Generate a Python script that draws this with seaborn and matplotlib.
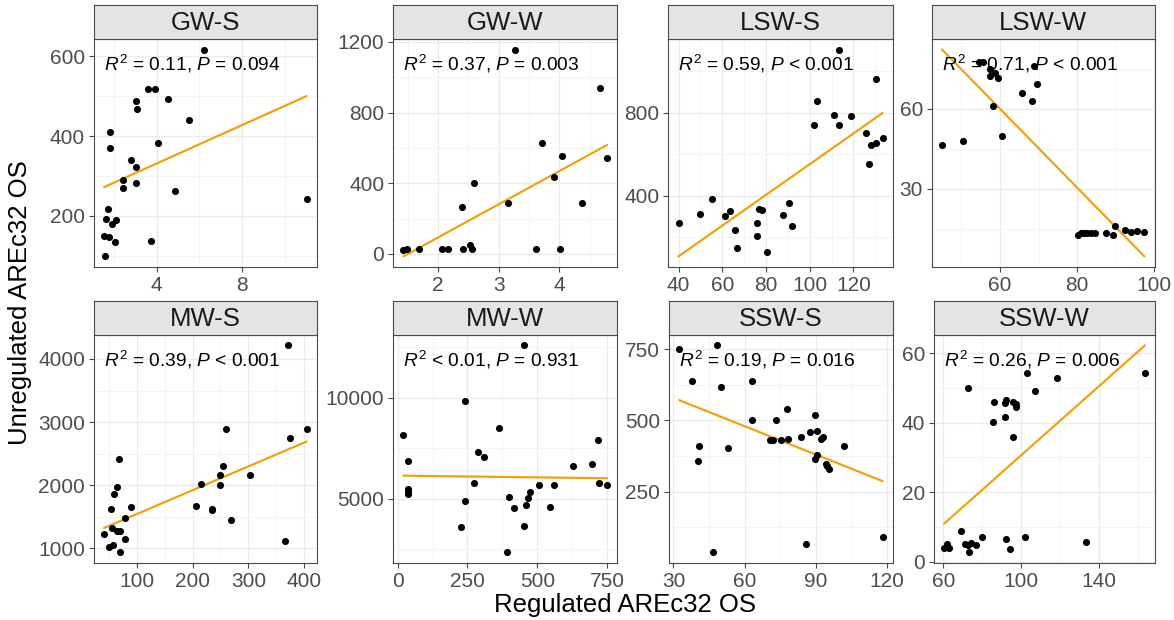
import matplotlib
matplotlib.use("Agg")
import matplotlib.pyplot as plt
from matplotlib.ticker import FixedLocator, AutoMinorLocator
import seaborn as sns

# ---- data: regulated (x) vs unregulated (y) AREc32 OS per site/season ----
gw_s_x = [6.19, 3.57, 3.91, 3.03, 4.53, 3.09, 5.53, 1.81, 1.81, 4.05, 2.81, 3.03, 2.44,
          2.41, 3.03, 4.85, 11.01, 1.71, 1.62, 2.10, 1.90, 1.54, 1.78, 2.07, 3.75, 1.58]
gw_s_y = [617, 519, 519, 488, 492, 467, 441, 409, 371, 382, 339, 322, 290,
          270, 282, 263, 243, 217, 193, 190, 179, 148, 147, 134, 136, 98]

gw_w_x = [3.27, 4.67, 3.72, 4.05, 4.79, 3.91, 2.59, 2.40, 3.16, 4.37,
          1.43, 1.48, 1.68, 2.06, 2.17, 2.42, 2.52, 2.56, 3.62, 4.01]
gw_w_y = [1156, 939, 630, 552, 541, 434, 400, 267, 288, 288,
          22, 25, 27, 29, 29, 25, 48, 27, 25, 25]

lsw_s_x = [113.3, 130.2, 103.4, 110.9, 118.7, 102.0, 113.3, 125.8, 133.3, 130.2, 128.0,
           126.9, 55.2, 90.6, 76.6, 78.1, 63.5, 49.9, 61.3, 87.6, 76.0, 40.0, 92.0,
           65.9, 76.0, 66.7, 80.4]
lsw_s_y = [1104, 960, 858, 789, 782, 742, 741, 702, 677, 656, 643,
           552, 386, 363, 336, 330, 326, 312, 304, 306, 270, 270, 253,
           235, 205, 146, 130]

lsw_w_x = [45.0, 50.3, 54.5, 55.5, 57.3, 57.3, 58.7, 59.4, 58.1, 60.6, 68.8, 69.7, 65.7,
           68.4, 80.1, 80.9, 81.8, 82.6, 83.5, 84.5, 87.4, 89.7, 89.3, 92.5, 93.9,
           95.5, 97.4]
lsw_w_y = [46.4, 47.9, 77.3, 77.3, 74.9, 72.2, 73.3, 71.4, 61.1, 49.8, 76.0, 69.4, 65.8,
           63.0, 12.5, 13.2, 13.4, 13.4, 13.4, 13.4, 13.4, 15.9, 12.5, 14.4, 13.9,
           14.0, 13.7]

mw_s_x = [371.4, 259.4, 404.2, 374.1, 68.4, 254.7, 249.4, 303.1, 215.1, 248.8, 64.3,
          59.0, 89.6, 206.9, 234.7, 235.3, 54.9, 79.0, 268.3, 55.5, 64.3, 70.2,
          41.8, 79.6, 366.1, 58.4, 50.8, 69.6]
mw_s_y = [4216, 2895, 2889, 2742, 2416, 2305, 2163, 2158, 2026, 2005, 1979,
          1868, 1658, 1679, 1616, 1600, 1621, 1479, 1442, 1321, 1268, 1274,
          1226, 1153, 1121, 1058, 1016, 937]

mw_w_x = [451, 242, 362, 21, 716, 286, 311, 38, 697, 627, 274, 242, 228, 399,
          418, 392, 452, 458, 468, 475, 506, 560, 544, 722, 750, 38, 38, 38]
mw_w_y = [12582, 9852, 8503, 8125, 7911, 7303, 7056, 6875, 6727, 6595, 5789, 4901,
          3602, 5099, 4523, 2336, 3618, 4655, 5033, 5345, 5691, 5691, 4556, 5757,
          5691, 5493, 5378, 5214]

ssw_s_x = [32.4, 48.2, 37.6, 50.0, 62.9, 63.1, 73.1, 77.9, 40.6, 40.2, 53.0, 70.6, 71.7,
           75.1, 78.2, 83.8, 87.3, 89.5, 90.4, 92.0, 92.9, 90.5, 89.4, 94.0, 94.7,
           95.3, 101.6, 85.6, 118.0, 46.7]
ssw_s_y = [750, 764, 638, 618, 638, 502, 501, 539, 410, 357, 404, 432, 432,
           432, 433, 442, 459, 519, 463, 433, 440, 377, 366, 348, 339,
           329, 409, 67, 89, 36]

ssw_w_x = [163.5, 102.8, 118.2, 72.5, 106.8, 85.9, 91.6, 92.3, 95.7, 97.4, 97.5, 91.6,
           85.6, 95.7, 68.8, 79.7, 92.3, 102.1, 133.1, 60.3, 62.0, 62.0, 62.9, 71.1,
           72.5, 74.0, 76.7, 73.1, 94.3]
ssw_w_y = [54.4, 54.3, 52.7, 50.1, 49.2, 45.8, 45.6, 46.6, 45.9, 45.4, 44.6, 41.5,
           40.1, 35.9, 8.8, 7.0, 6.6, 7.2, 5.8, 3.9, 5.2, 4.1, 3.9, 5.1,
           4.9, 5.4, 4.7, 2.7, 3.8]

stat_labels = [
    r"$R^2$ = 0.11, $P$ = 0.094",
    r"$R^2$ = 0.37, $P$ = 0.003",
    r"$R^2$ = 0.59, $P$ < 0.001",
    r"$R^2$ = 0.71, $P$ < 0.001",
    r"$R^2$ = 0.39, $P$ < 0.001",
    r"$R^2$ < 0.01, $P$ = 0.931",
    r"$R^2$ = 0.19, $P$ = 0.016",
    r"$R^2$ = 0.26, $P$ = 0.006",
]

x_ticks = [[4, 8], [2, 3, 4], [40, 60, 80, 100, 120], [60, 80, 100],
           [100, 200, 300, 400], [0, 250, 500, 750], [30, 60, 90, 120], [60, 100, 140]]
y_ticks = [[200, 400, 600], [0, 400, 800, 1200], [400, 800], [0, 30, 60],
           [1000, 2000, 3000, 4000], [5000, 10000], [250, 500, 750], [0, 20, 40, 60]]

panels = [
    ("GW-S", gw_s_x, gw_s_y), ("GW-W", gw_w_x, gw_w_y),
    ("LSW-S", lsw_s_x, lsw_s_y), ("LSW-W", lsw_w_x, lsw_w_y),
    ("MW-S", mw_s_x, mw_s_y), ("MW-W", mw_w_x, mw_w_y),
    ("SSW-S", ssw_s_x, ssw_s_y), ("SSW-W", ssw_w_x, ssw_w_y),
]

# ---- styling ----
sns.set_style("white")
plt.rcParams["font.family"] = ["Liberation Sans", "DejaVu Sans"]
plt.rcParams["mathtext.fontset"] = "custom"
plt.rcParams["mathtext.rm"] = "Liberation Sans"
plt.rcParams["mathtext.it"] = "Liberation Sans:italic"

W, H = 1174, 620
fig = plt.figure(figsize=(W / 100, H / 100), dpi=100)
fig.patch.set_facecolor("white")


def rect(left, top, right, bottom):
    return [left / W, 1 - bottom / H, (right - left) / W, (bottom - top) / H]


# panel boxes in pixels: (left, right), rows: (strip top, panel top, panel bottom)
cols_top = [(94, 316.7), (393.3, 617.3), (668.3, 892.7), (932, 1154.5)]
cols_bot = [(94, 316.7), (393.3, 617.3), (669, 892.7), (934, 1155)]
rows = [(5, 39.3, 266.7), (300.7, 335, 562.7)]

line_color = "#F0A30F"
border_color = "#4A4A4A"

for i, (name, xs, ys) in enumerate(panels):
    r, c = divmod(i, 4)
    left, right = (cols_top if r == 0 else cols_bot)[c]
    s_top, p_top, p_bot = rows[r]

    ax = fig.add_axes(rect(left, p_top, right, p_bot))
    sns.regplot(x=xs, y=ys, ax=ax, ci=None, truncate=True,
                scatter_kws=dict(s=26, color="black", alpha=1, linewidths=0, zorder=3),
                line_kws=dict(color=line_color, lw=1.6, zorder=2))
    ax.margins(0.05)
    ax.autoscale_view()

    ax.xaxis.set_major_locator(FixedLocator(x_ticks[i]))
    ax.yaxis.set_major_locator(FixedLocator(y_ticks[i]))
    ax.xaxis.set_minor_locator(AutoMinorLocator(2))
    ax.yaxis.set_minor_locator(AutoMinorLocator(2))
    ax.grid(which="major", color="#EBEBEB", lw=1.0)
    ax.grid(which="minor", color="#F3F3F3", lw=0.6)
    ax.set_axisbelow(True)

    ax.tick_params(which="major", direction="out", length=3.5, width=0.8,
                   color=border_color, labelsize=15, labelcolor="#4D4D4D", pad=3)
    ax.tick_params(which="minor", length=0)
    ax.tick_params(axis="x", labelbottom=True, bottom=True)
    ax.tick_params(axis="y", labelleft=True, left=True)
    for sp in ax.spines.values():
        sp.set_color(border_color)
        sp.set_linewidth(0.8)
    ax.set_xlabel("")
    ax.set_ylabel("")

    ax.text(0.045, 0.862, stat_labels[i], transform=ax.transAxes,
            ha="left", va="baseline", fontsize=13.8, color="black", zorder=4)

    # facet strip
    sax = fig.add_axes(rect(left, s_top, right, p_top))
    sax.set_facecolor("#E4E4E4")
    sax.set_xticks([])
    sax.set_yticks([])
    for sp in sax.spines.values():
        sp.set_color(border_color)
        sp.set_linewidth(0.8)
    sax.text(0.5, 0.47, name, transform=sax.transAxes, ha="center", va="center",
             fontsize=18.5, color="#1A1A1A")

fig.text(624.5 / W, 1 - 605 / H, "Regulated AREc32 OS", ha="center", va="center",
         fontsize=18.5, color="black")
fig.text(20 / W, 1 - 303 / H, "Unregulated AREc32 OS", ha="center", va="center",
         rotation=90, fontsize=18.5, color="black")

fig.savefig("out.png", dpi=100, facecolor="white")
